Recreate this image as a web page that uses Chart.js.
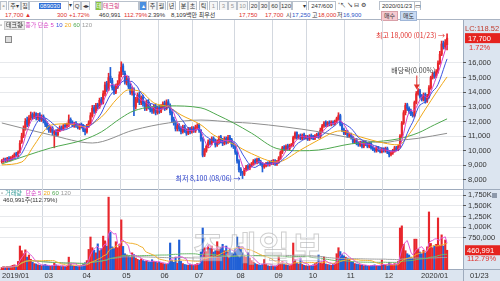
<!DOCTYPE html>
<html>
<head>
<meta charset="utf-8">
<script src="https://cdn.jsdelivr.net/npm/chart.js@4.4.1/dist/chart.umd.min.js"></script>
<style>
  html, body { margin: 0; padding: 0; background: #fff; }
  #wrap { position: relative; width: 500px; height: 281px; overflow: hidden;
          font-family: "Liberation Sans", "Noto Sans CJK KR", sans-serif; font-size: 6px; color: #333; }
  canvas { position: absolute; left: 0; }
  #priceCv { top: 20px; }
  #volCv { top: 190px; }
  .t { position: absolute; white-space: nowrap; line-height: 10px; }
  .t i { font-style: normal; margin-right: 2px; }
  .b { position: absolute; top: 1px; height: 8px; line-height: 8px; border: 1px solid #b9c1cc;
       background: #f6f6f6; font-size: 6px; text-align: center; color: #333; box-sizing: content-box; }
  .red { color: #e0302c; }
  .blue { color: #2a55c8; }
  #bar1 { position: absolute; left: 0; top: 0; width: 500px; height: 10px; background: #fff; }
  #bar2 { position: absolute; left: 0; top: 10px; width: 500px; height: 10px; background: #fff;
          border-bottom: 1px solid #aab4c3; box-sizing: border-box; }
  #wm { position: absolute; left: 192px; top: 222px; font-family: "Noto Sans CJK KR"; font-size: 34px; font-weight: bold;
        letter-spacing: 2px; color: rgba(255,255,255,0.4); -webkit-text-stroke: 1px rgba(160,160,160,0.5); white-space: nowrap; }
</style>
</head>
<body>
<div id="wrap">
  <div id="bar1">
    <div class="b" style="left:0px;width:5px">▫</div>
    <div class="b" style="left:8px;width:11px">주▾</div>
    <div class="b" style="left:21px;width:6px">집</div>
    <div class="b" style="left:29px;width:38px;background:#fff;text-align:left"><span style="background:#3070d8;color:#fff;margin-left:9px;padding:0 1px">089030</span></div>
    <div class="b" style="left:68px;width:4px;border:none;background:none">▾</div>
    <div class="b" style="left:73px;width:6px">Q</div>
    <div class="b" style="left:81px;width:7px">◂▸</div>
    <div class="b" style="left:95px;width:5px;background:#8cc63f;color:#fff">테</div>
    <div class="b" style="left:102px;width:35px;background:#fff;text-align:left;color:#d0307a">테크윙</div>
    <div class="b" style="left:139px;width:6px;background:#4a8fe0;color:#fff">▴</div>
    <div class="b" style="left:148px;width:7px">주</div>
    <div class="b" style="left:157px;width:7px">월</div>
    <div class="b" style="left:167px;width:7px">년</div>
    <div class="b" style="left:179px;width:7px">분</div>
    <div class="b" style="left:188px;width:7px">초</div>
    <div class="b" style="left:199px;width:7px">틱</div>
    <div class="b" style="left:209px;width:7px;color:#999">1</div>
    <div class="b" style="left:219px;width:7px;color:#999">3</div>
    <div class="b" style="left:228px;width:7px;color:#999">5</div>
    <div class="b" style="left:237px;width:9px;color:#999">10</div>
    <div class="b" style="left:249px;width:8px">20</div>
    <div class="b" style="left:259px;width:8px">30</div>
    <div class="b" style="left:269px;width:9px">60</div>
    <div class="b" style="left:280px;width:10px">120</div>
    <div class="b" style="left:292px;width:13px;background:#fff;text-align:right">▾</div>
    <div class="b" style="left:308px;width:26px;background:#fff">247/600</div>
    <div class="b" style="left:338px;width:6px;border:none;background:none">⁺↖</div>
    <div class="b" style="left:347px;width:6px;border:none;background:none">↘</div>
    <div class="b" style="left:354px;width:5px;border:none;background:none">⊟</div>
    <div class="b" style="left:361px;width:5px;border:none;background:none">⚙</div>
    <div class="b" style="left:379px;width:34px;background:#fff">2020/01/23</div>
    <div class="b" style="left:414px;width:5px;background:#fff">▭</div>
  </div>
  <div id="bar2">
    <span class="t red" style="left:5px">17,700 ▲</span>
    <span class="t red" style="left:57px">300</span>
    <span class="t red" style="left:69px">+1.72%</span>
    <span class="t" style="left:99px">460,991</span>
    <span class="t red" style="left:124px">112.79%</span>
    <span class="t" style="left:148px">2.39%</span>
    <span class="t" style="left:171px">8,109백만 최우선</span>
    <span class="t red" style="left:239px">17,750</span>
    <span class="t red" style="left:265px">17,700</span>
    <span class="t" style="left:286px">시</span>
    <span class="t blue" style="left:292px">17,250</span>
    <span class="t" style="left:312px">고</span>
    <span class="t red" style="left:318px">18,000</span>
    <span class="t" style="left:337px">저</span>
    <span class="t blue" style="left:343px">16,900</span>
    <span class="t" style="left:381px;top:1px;height:8px;line-height:8px;padding:0 2px;background:#f5c9cf;border:1px solid #d9a0a8">매수</span>
    <span class="t" style="left:400px;top:1px;height:8px;line-height:8px;padding:0 2px;background:#c9daf2;border:1px solid #9fb6d8">매도</span>
  </div>

  <canvas id="priceCv" width="500" height="170"></canvas>
  <canvas id="volCv" width="500" height="91"></canvas>

  <div id="wm">조세일보</div>

  <!-- 가격 패널 범례 -->
  <span class="t" style="left:0px;top:20px;color:#777">▫</span>
  <span class="t" style="left:4px;top:21px;line-height:7px;padding:0 1px;background:#e9e9e9;border:1px solid #c8c8c8">테크윙</span>
  <span class="t" style="left:21px;top:20px"><i style="color:#777">▪</i><i style="color:#d63fc4">종가 단순 5</i><i style="color:#3a52e0">10</i><i style="color:#f0a818">20</i><i style="color:#4fa84f">60</i><i style="color:#999">120</i></span>
  <span class="t" style="left:5px;top:36px;width:5px;height:5px;border:1px solid #888;background:#ddd"></span>

  <!-- 거래량 패널 범례 -->
  <span class="t" style="left:1px;top:188px"><i style="color:#777">▫</i><i style="color:#2f9a96">거래량</i> <i style="color:#d63fc4">단순 5</i><i style="color:#f0a818">20</i><i style="color:#4fa84f">60</i><i style="color:#999">120</i></span>
  <span class="t" style="left:3px;top:195px">460,991주(112.79%)</span>
</div>

<script>
// ---- 데이터 (2019/01 ~ 2020/01/23, 일봉 247개) ----
const opens = [
  9250, 9300, 9450, 9350, 9500, 9400, 9500, 9600, 9800, 9700,
  9950, 10600, 11000, 11500, 12100, 11800, 12250, 12500, 12300, 12550,
  12250, 12450, 12100, 12350, 12100, 11850, 11650, 11350, 11550, 11200,
  11350, 11100, 11400, 11600, 11500, 11750, 11650, 11750, 12150, 11950,
  11700, 11900, 11750, 11550, 11800, 11700, 11450, 11300, 11700, 11900,
  12400, 12950, 12700, 13150, 13000, 13500, 13300, 13900, 14600, 14200,
  15100, 14800, 14350, 14000, 14350, 14600, 15200, 15800, 15300, 14650,
  14950, 14450, 13950, 14200, 13000, 13450, 13850, 13300, 13650, 13250,
  12900, 13350, 13050, 12850, 12700, 13050, 12600, 12950, 12700, 13000,
  13250, 12900, 13350, 13100, 12650, 12150, 11950, 11500, 11750, 11550,
  11300, 11650, 11400, 11200, 11500, 11300, 11550, 11350, 11600, 11750,
  11400, 10800, 9700, 10000, 10300, 10650, 10500, 10850, 10700, 10400,
  10600, 10950, 10750, 10500, 10850, 10600, 10950, 10750, 10450, 10300,
  9900, 9300, 8750, 8500, 8400, 8700, 8950, 8800, 9000, 9100,
  9350, 9200, 9450, 9250, 9100, 8900, 9000, 9150, 9050, 9250,
  9150, 9300, 9100, 9250, 9500, 9900, 10250, 10100, 10350, 10150,
  10350, 10400, 10900, 11250, 10900, 11050, 10850, 11100, 10900, 10950,
  10800, 11050, 10950, 10850, 11000, 11150, 10950, 11400, 11700, 11950,
  11750, 11950, 11800, 11950, 11850, 12000, 12200, 12400, 11800, 11450,
  11200, 11300, 11000, 11100, 10900, 10600, 10750, 10500, 10400, 10550,
  10300, 10600, 10450, 10300, 10500, 10200, 10100, 10000, 10200, 10050,
  9950, 10100, 10000, 10150, 9900, 9750, 9850, 10000, 10200, 10100,
  10300, 11000, 11900, 12600, 13150, 12900, 12750, 12500, 12400, 13300,
  13900, 14100, 13750, 13500, 13850, 13400, 13700, 14300, 15000, 15250,
  15100, 15400, 16000, 16600, 17350, 17100, 17250
];
const highs = [
  9400, 9500, 9500, 9550, 9600, 9600, 9700, 9850, 9900, 10000,
  10700, 11200, 11700, 12200, 12300, 12400, 12650, 12600, 12650, 12600,
  12550, 12600, 12450, 12450, 12200, 12000, 11750, 11650, 11650, 11400,
  11450, 11500, 11700, 11700, 11800, 11850, 11900, 12450, 12250, 12050,
  11950, 12000, 11850, 11850, 11900, 11800, 11550, 11800, 12050, 12600,
  13100, 13100, 13250, 13250, 13600, 13650, 14100, 14700, 14750, 15300,
  15700, 14950, 14500, 14550, 14800, 15400, 16080, 15950, 15450, 15100,
  15100, 14600, 14350, 14300, 13650, 13950, 14000, 13750, 13800, 13400,
  13450, 13500, 13200, 13000, 13150, 13200, 13050, 13100, 13150, 13350,
  13400, 13480, 13500, 13200, 12750, 12300, 12050, 11850, 11850, 11650,
  11750, 11750, 11500, 11600, 11600, 11650, 11650, 11750, 11850, 11850,
  11450, 10900, 10150, 10400, 10750, 10800, 10950, 10950, 10800, 10750,
  11000, 11050, 10850, 10950, 10950, 11050, 11050, 10850, 10550, 10400,
  10000, 9400, 8850, 8600, 8800, 9000, 9050, 9100, 9200, 9400,
  9450, 9500, 9500, 9350, 9200, 9100, 9200, 9250, 9300, 9350,
  9400, 9400, 9350, 9600, 10000, 10300, 10350, 10400, 10450, 10450,
  10500, 11000, 11300, 11300, 11100, 11150, 11150, 11200, 11050, 11050,
  11100, 11150, 11050, 11100, 11200, 11250, 11550, 11800, 12000, 12050,
  12000, 12050, 12050, 12050, 12100, 12300, 12600, 12500, 11900, 11550,
  11400, 11400, 11200, 11200, 11000, 10800, 10850, 10600, 10650, 10650,
  10700, 10700, 10550, 10600, 10600, 10300, 10200, 10300, 10300, 10150,
  10200, 10200, 10250, 10250, 10000, 9950, 10100, 10300, 10300, 10400,
  11100, 12000, 12750, 13250, 13250, 13000, 12850, 12650, 13400, 14050,
  14250, 14200, 13850, 13950, 13950, 13850, 14450, 15100, 15350, 15400,
  15550, 16150, 16800, 17500, 17500, 17600, 18000
];
const lows = [
  9150, 9200, 9250, 9250, 9300, 9300, 9400, 9500, 9600, 9600,
  9850, 10500, 10900, 11400, 11650, 11700, 12100, 12150, 12200, 12100,
  12100, 12000, 12000, 11900, 11650, 11450, 11250, 11250, 11100, 10200,
  11000, 11000, 11300, 11400, 11400, 11550, 11550, 11650, 11800, 11650,
  11600, 11600, 11500, 11450, 11550, 11300, 11080, 11200, 11600, 11800,
  12300, 12550, 12600, 12850, 12900, 13150, 13200, 13750, 14050, 14100,
  14650, 14150, 13850, 13900, 14250, 14500, 15050, 15200, 14550, 14500,
  14250, 13850, 13800, 12400, 12850, 13300, 13150, 13150, 13050, 12750,
  12750, 12850, 12650, 12550, 12550, 12450, 12500, 12550, 12600, 12850,
  12750, 12800, 12950, 12450, 11950, 11750, 11350, 11350, 11350, 11150,
  11200, 11250, 11050, 11100, 11150, 11200, 11250, 11250, 11500, 11250,
  10650, 9580, 9600, 9900, 10200, 10400, 10400, 10550, 10250, 10300,
  10500, 10550, 10350, 10400, 10450, 10500, 10550, 10250, 10150, 9750,
  9150, 8550, 8300, 8100, 8300, 8600, 8700, 8700, 8900, 9000,
  9100, 9100, 9150, 9000, 8550, 8800, 8900, 8950, 8950, 9050,
  9050, 9000, 9000, 9150, 9400, 9800, 10000, 10000, 10050, 10050,
  10250, 10300, 10800, 10800, 10800, 10750, 10750, 10800, 10800, 10700,
  10700, 10800, 10750, 10750, 10900, 10850, 10850, 11300, 11600, 11650,
  11650, 11700, 11700, 11750, 11750, 11900, 12100, 11700, 11300, 11100,
  11100, 10900, 10900, 10800, 10500, 10500, 10400, 10300, 10300, 10200,
  10200, 10350, 10200, 10200, 10100, 10000, 9900, 9900, 9950, 9850,
  9850, 9900, 9900, 9800, 9580, 9650, 9750, 9900, 10000, 10000,
  10200, 10900, 11800, 12450, 12750, 12550, 12400, 12300, 12300, 13200,
  13800, 13600, 13400, 13400, 13250, 13300, 13600, 14200, 14900, 14950,
  15000, 15300, 15900, 16500, 16950, 16950, 16900
];
const closes = [
  9300, 9400, 9350, 9450, 9400, 9500, 9600, 9750, 9700, 9900,
  10500, 11000, 11500, 12000, 11800, 12200, 12450, 12300, 12500, 12250,
  12400, 12150, 12300, 12050, 11800, 11600, 11400, 11500, 11250, 11300,
  11100, 11400, 11550, 11500, 11700, 11650, 11800, 12100, 11900, 11750,
  11850, 11700, 11600, 11750, 11650, 11400, 11300, 11700, 11900, 12400,
  12900, 12700, 13100, 13000, 13450, 13300, 13900, 14500, 14200, 15000,
  14800, 14300, 14000, 14400, 14600, 15200, 15700, 15400, 14700, 14900,
  14400, 14000, 14200, 13000, 13500, 13800, 13300, 13600, 13200, 12900,
  13300, 13000, 12800, 12700, 13000, 12600, 12900, 12700, 13000, 13200,
  12900, 13300, 13100, 12600, 12100, 11900, 11500, 11700, 11500, 11300,
  11600, 11400, 11200, 11450, 11300, 11500, 11350, 11600, 11700, 11400,
  10800, 9700, 10000, 10300, 10600, 10500, 10800, 10700, 10400, 10600,
  10900, 10700, 10500, 10800, 10600, 10900, 10700, 10400, 10300, 9900,
  9300, 8700, 8500, 8400, 8700, 8900, 8800, 9000, 9100, 9300,
  9200, 9400, 9250, 9100, 8900, 9000, 9100, 9050, 9200, 9150,
  9300, 9100, 9250, 9500, 9900, 10200, 10100, 10300, 10150, 10350,
  10400, 10900, 11200, 10900, 11000, 10850, 11050, 10900, 10950, 10800,
  11000, 10900, 10850, 11000, 11100, 10950, 11400, 11700, 11900, 11750,
  11900, 11800, 11950, 11850, 12000, 12200, 12400, 11800, 11400, 11200,
  11300, 11000, 11100, 10900, 10600, 10700, 10500, 10400, 10550, 10300,
  10600, 10450, 10300, 10500, 10200, 10100, 10000, 10200, 10050, 9950,
  10100, 10000, 10150, 9900, 9750, 9850, 10000, 10200, 10100, 10300,
  11000, 11900, 12600, 13100, 12900, 12700, 12500, 12400, 13300, 13900,
  14100, 13700, 13500, 13800, 13400, 13700, 14300, 15000, 15200, 15100,
  15400, 16000, 16600, 17300, 17100, 17400, 17700
];
// 거래량 (천주)
const volumes = [
  60, 75, 55, 80, 70, 90, 110, 120, 95, 200,
  560, 450, 380, 470, 300, 350, 250, 180, 150, 140,
  120, 110, 100, 115, 130, 105, 90, 85, 100, 160,
  120, 95, 85, 80, 90, 85, 95, 300, 140, 100,
  90, 85, 80, 95, 110, 130, 170, 220, 480, 770,
  520, 460, 400, 610, 450, 500, 790, 680, 560, 1700,
  880, 540, 500, 660, 520, 600, 1170, 550, 380, 350,
  330, 300, 400, 360, 280, 250, 230, 260, 220, 200,
  210, 190, 180, 240, 200, 190, 170, 180, 160, 150,
  140, 130, 150, 630, 220, 180, 300, 160, 700, 200,
  150, 130, 120, 110, 140, 120, 110, 130, 150, 140,
  420, 980, 520, 430, 540, 500, 560, 420, 450, 660,
  480, 520, 600, 450, 560, 420, 480, 400, 380, 500,
  770, 550, 480, 400, 350, 300, 400, 280, 220, 180,
  150, 130, 120, 110, 140, 245, 130, 100, 90, 95,
  85, 90, 100, 340, 150, 200, 130, 120, 110, 100,
  110, 630, 250, 160, 140, 270, 130, 110, 100, 95,
  100, 110, 120, 150, 180, 350, 160, 150, 300, 140,
  130, 120, 110, 140, 160, 380, 520, 430, 360, 330,
  300, 280, 250, 200, 180, 150, 140, 130, 120, 110,
  100, 110, 95, 90, 100, 110, 120, 100, 95, 90,
  230, 120, 110, 100, 180, 140, 120, 150, 130, 200,
  980, 1030, 600, 450, 380, 350, 300, 280, 720, 720,
  480, 420, 380, 460, 400, 540, 1355, 620, 520, 560,
  600, 1215, 580, 820, 560, 700, 461
];
// 이동평균 20/60/120 (그림에서 읽은 값: [봉 번호, 가격])
const ma20Pts = [[0, 9030], [11, 9230], [18, 10400], [23, 11300], [27, 11750], [36, 11840], [45, 11650],
  [55, 12300], [64, 13600], [70, 14160], [77, 14030], [84, 13270], [92, 13000], [99, 12450],
  [110, 11770], [117, 11080], [128, 10450], [138, 9800], [152, 9230], [165, 10050], [175, 10740],
  [187, 11360], [198, 10950], [211, 10530], [219, 10400], [226, 11290], [233, 12650], [241, 14160], [246, 15050]];
const ma60Pts = [[0, 9100], [27, 10190], [45, 10740], [55, 11290], [66, 12250], [73, 12730], [92, 13070],
  [110, 12930], [119, 12450], [128, 11900], [138, 11200], [152, 10150], [165, 10000], [175, 10050],
  [193, 10470], [211, 10670], [219, 10810], [230, 11220], [239, 11770], [246, 12180]];
const ma120Pts = [[0, 11900], [27, 11080], [50, 10530], [73, 11420], [92, 11900], [110, 12100], [128, 11950],
  [138, 11880], [175, 11300], [193, 10870], [211, 10560], [219, 10700], [230, 10850], [246, 11190]];

const monthTicks = [-1, 22.5, 43.5, 65.5, 86.5, 105.5, 128.5, 149.5, 168.5, 189.5, 210.5, 230.5];
const monthLabels = ['2019/01', '03', '04', '05', '06', '07', '08', '09', '10', '11', '12', '2020/01'];
const priceTicks = [8000, 9000, 10000, 11000, 12000, 13000, 14000, 15000, 16000];
const volTicks = [750, 1000, 1250, 1500, 1750];

const highMark = { idx: 246, label: '최고 18,000 (01/23)' };
const lowMark = { idx: 133, label: '최저 8,100 (08/06)' };
const exDivMark = { idx: 229, label: '배당락(0.00%)' };
const lastPrice = 17700;

const X_MIN = -1, X_MAX = 254.8;
const UP = '#e8262c', DOWN = '#2160d6';
const GRID_V = '#d3d8df', GRID_H = '#e7e9ec';
const TICK_FONT = { family: 'Liberation Sans', size: 7.5 };

const candleColor = closes.map((c, i) => (c >= opens[i] ? UP : DOWN));

function sma(src, n) {
  return src.map((_, i) => {
    const w = src.slice(Math.max(0, i - n + 1), i + 1);
    return { x: i, y: w.reduce((a, b) => a + b, 0) / w.length };
  });
}
const pts = (arr) => arr.map(([x, y]) => ({ x, y }));

function lineDs(data, color, smooth) {
  return { type: 'line', data, borderColor: color, borderWidth: 1, pointRadius: 0,
           tension: smooth ? 0.4 : 0, cubicInterpolationMode: smooth ? 'monotone' : 'default', order: 0 };
}

// 배경 / 구분선
const panelBg = {
  id: 'panelBg',
  beforeDraw(chart, args, opts) {
    const { ctx, chartArea: a, width, height } = chart;
    ctx.save();
    ctx.fillStyle = '#dce5f0';
    ctx.fillRect(a.right, 0, width - a.right, height);
    if (opts.axisRow) ctx.fillRect(0, a.bottom, width, height - a.bottom);
    ctx.strokeStyle = '#9eabbd';
    ctx.lineWidth = 1;
    ctx.beginPath();
    ctx.moveTo(a.right + 0.5, 0); ctx.lineTo(a.right + 0.5, height);
    ctx.moveTo(0, a.bottom - 0.5); ctx.lineTo(width, a.bottom - 0.5);
    ctx.stroke();
    ctx.restore();
  }
};

const xScale = (showLabels) => ({
  type: 'linear', min: X_MIN, max: X_MAX, offset: false, bounds: 'data',
  afterBuildTicks: (s) => { s.ticks = monthTicks.map((v) => ({ value: v })); },
  afterFit: (s) => { s.height = showLabels ? 11 : 0; s.paddingLeft = 0; s.paddingRight = 0; },
  grid: { offset: false, drawTicks: false, color: (c) => (c.index === 0 ? 'rgba(0,0,0,0)' : GRID_V) },
  border: { display: false },
  ticks: { display: showLabels, autoSkip: false, maxRotation: 0, align: 'start', labelOffset: 2, padding: 1,
           font: TICK_FONT, color: '#333', callback: (v, i) => monthLabels[i] }
});

const yScale = (min, max, tickList, fmt) => ({
  position: 'right', min, max, bounds: 'data',
  afterBuildTicks: (s) => { s.ticks = tickList.map((v) => ({ value: v })); },
  afterFit: (s) => { s.width = 37; s.paddingTop = 0; s.paddingBottom = 0; },
  grid: { color: GRID_H, tickLength: 3, tickColor: '#555', drawTicks: true },
  border: { display: false },
  ticks: { autoSkip: false, padding: 2, font: TICK_FONT, color: '#333', callback: fmt }
});

// 가격 차트 표시
const priceMarks = {
  id: 'priceMarks',
  afterDatasetsDraw(chart) {
    const { ctx, scales: { x, y }, chartArea: a, width } = chart;
    ctx.save();
    ctx.font = '7px "Noto Sans CJK KR"';
    ctx.textBaseline = 'middle';

    let px = x.getPixelForValue(highMark.idx), py = y.getPixelForValue(highs[highMark.idx]);
    ctx.fillStyle = '#e0302c'; ctx.textAlign = 'right';
    ctx.fillText(highMark.label + ' →', px - 2, py + 2);

    px = x.getPixelForValue(lowMark.idx); py = y.getPixelForValue(lows[lowMark.idx]);
    ctx.fillStyle = '#2238c8';
    ctx.fillText(lowMark.label + ' →', px - 2, py);

    px = x.getPixelForValue(exDivMark.idx); py = y.getPixelForValue(highs[exDivMark.idx]);
    ctx.strokeStyle = '#e0302c'; ctx.fillStyle = '#e0302c'; ctx.lineWidth = 1;
    ctx.beginPath(); ctx.moveTo(px + 0.5, py - 16); ctx.lineTo(px + 0.5, py - 5); ctx.stroke();
    ctx.beginPath(); ctx.moveTo(px - 2.5, py - 7); ctx.lineTo(px + 3.5, py - 7); ctx.lineTo(px + 0.5, py - 2); ctx.fill();
    ctx.fillStyle = '#444'; ctx.textAlign = 'center';
    ctx.fillText(exDivMark.label, px - 3, py - 21);

    // 우측 현재가 박스
    const ly = y.getPixelForValue(lastPrice);
    ctx.fillStyle = '#e5231f';
    ctx.fillRect(a.right + 2, ly - 5, width - a.right - 2, 10);
    ctx.font = '7.5px "Liberation Sans"'; ctx.textAlign = 'left';
    ctx.fillStyle = '#fff';
    ctx.fillText(lastPrice.toLocaleString('en-US'), a.right + 5, ly + 0.5);
    ctx.fillStyle = '#e0302c';
    ctx.fillText('1.72%', a.right + 6, ly + 10);
    ctx.fillStyle = '#c0392b';
    ctx.fillText('LC:118.52', a.right + 2, 9);
    ctx.restore();
  }
};

// 거래량 차트 표시
const volMarks = {
  id: 'volMarks',
  afterDatasetsDraw(chart) {
    const { ctx, scales: { y }, chartArea: a, width } = chart;
    const last = volumes[volumes.length - 1];
    const ly = y.getPixelForValue(last);
    ctx.save();
    ctx.textBaseline = 'middle';
    ctx.font = '7.5px "Liberation Sans"';
    ctx.fillStyle = '#e5231f';
    ctx.fillRect(a.right + 2, ly - 5, width - a.right - 2, 10);
    ctx.fillStyle = '#fff';
    ctx.fillText('460,991', a.right + 4, ly + 0.5);
    ctx.fillStyle = '#e0302c';
    ctx.fillText('112.79%', a.right + 4, ly + 9);
    ctx.fillStyle = '#333';
    ctx.fillText('01/23', a.right + 7, a.bottom + 6);
    ctx.fillStyle = '#8d99aa';
    ctx.fillRect(width - 8, 3, 5, 5);
    ctx.restore();
  }
};

const common = {
  responsive: false, animation: false, events: [],
  layout: { padding: 0 },
  plugins: { legend: { display: false }, tooltip: { enabled: false } }
};

new Chart(document.getElementById('priceCv'), {
  type: 'bar',
  data: {
    datasets: [
      lineDs(sma(closes, 5), '#d63fc4'),
      lineDs(sma(closes, 10), '#3a52e0'),
      lineDs(pts(ma20Pts), '#f0a818', true),
      lineDs(pts(ma60Pts), '#4fa84f', true),
      lineDs(pts(ma120Pts), '#8e8e8e', true),
      { type: 'bar', data: closes.map((c, i) => ({ x: i, y: [opens[i], c] })), backgroundColor: candleColor,
        barThickness: 1.5, grouped: false, minBarLength: 1, borderWidth: 0, order: 1 },
      { type: 'bar', data: lows.map((l, i) => ({ x: i, y: [l, highs[i]] })), backgroundColor: candleColor,
        barThickness: 1, grouped: false, borderWidth: 0, order: 2 }
    ]
  },
  options: {
    ...common,
    plugins: { ...common.plugins, panelBg: { axisRow: false } },
    scales: {
      x: xScale(false),
      y: yScale(7316, 18940, priceTicks, (v) => v.toLocaleString('en-US'))
    }
  },
  plugins: [panelBg, priceMarks]
});

new Chart(document.getElementById('volCv'), {
  type: 'bar',
  data: {
    datasets: [
      lineDs(sma(volumes, 5), '#e25ad6'),
      lineDs(sma(volumes, 20), '#f0b030'),
      lineDs(sma(volumes, 60), '#6cb86c'),
      lineDs(sma(volumes, 120), '#a0a0a0'),
      { type: 'bar', data: volumes.map((v, i) => ({ x: i, y: v })), backgroundColor: candleColor,
        barThickness: 1.5, grouped: false, borderWidth: 0, order: 1 }
    ]
  },
  options: {
    ...common,
    plugins: { ...common.plugins, panelBg: { axisRow: true } },
    scales: {
      x: xScale(true),
      y: yScale(0, 1867, volTicks, (v) => (v >= 1000 ? v.toLocaleString('en-US') + 'K' : (v * 1000).toLocaleString('en-US')))
    }
  },
  plugins: [panelBg, volMarks]
});
</script>
</body>
</html>
